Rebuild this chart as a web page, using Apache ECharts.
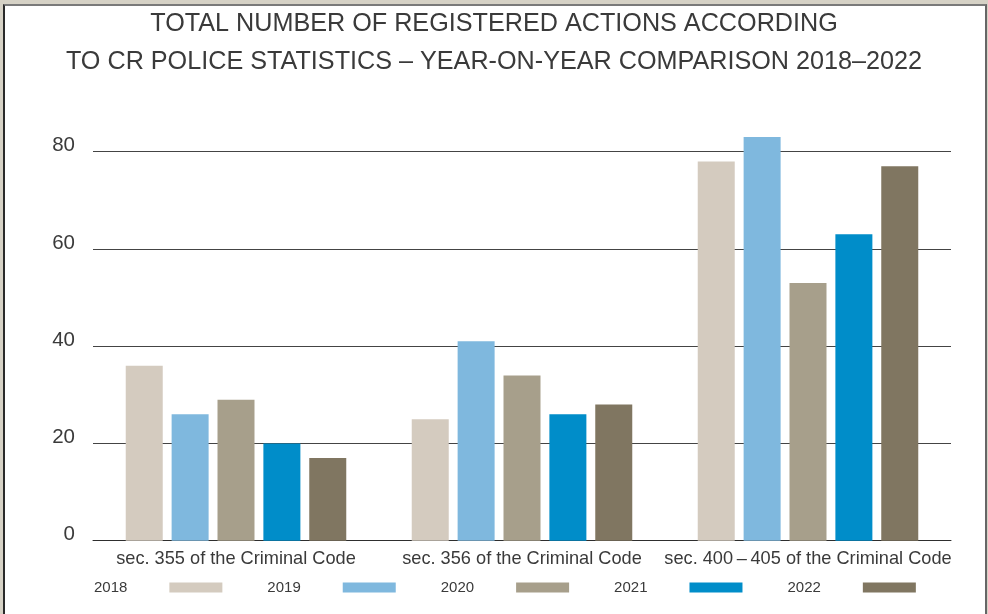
<!DOCTYPE html>
<html>
<head>
<meta charset="utf-8">
<script src="https://cdn.jsdelivr.net/npm/echarts@6/dist/echarts.min.js"></script>
<style>
  html, body { margin: 0; padding: 0; background: #d6d2c6; overflow: hidden; }
  .frame {
    position: absolute; left: 3px; top: 4px; width: 980px; height: 620px;
    background: #fff;
    border-left: 2px solid #2a2a2a;
    border-top: 2px solid #7a7a7a;
    border-right: 2px solid #666;
  }
  #chart { position: absolute; left: 0; top: 0; width: 988px; height: 614px; }
</style>
</head>
<body>
<div class="frame"></div>
<div id="chart"></div>
<script>
  // chart data
  const categories = [
    'sec. 355 of the Criminal Code',
    'sec. 356 of the Criminal Code',
    'sec. 400\u2009\u2013\u2009405 of the Criminal Code'
  ];
  const years = ['2018', '2019', '2020', '2021', '2022'];
  const values2018 = [36, 25, 78];
  const values2019 = [26, 41, 83];
  const values2020 = [29, 34, 53];
  const values2021 = [20, 26, 63];
  const values2022 = [17, 28, 77];
  const yTicks = [0, 20, 40, 60, 80];

  const seriesData = [values2018, values2019, values2020, values2021, values2022];
  const colors = ['#d4cbbf', '#7fb8de', '#a79f8b', '#008dc9', '#807661'];
  const FONT = 'Liberation Sans';

  let myChart = echarts.init(document.getElementById('chart'));
  let option = {
    animation: false,
    textStyle: { fontFamily: FONT },
    title: {
      text: 'TOTAL NUMBER OF REGISTERED ACTIONS ACCORDING\nTO CR POLICE STATISTICS \u2013 YEAR-ON-YEAR COMPARISON 2018\u20132022',
      left: 'center',
      top: 0,
      textStyle: {
        fontFamily: FONT,
        fontWeight: 'normal',
        fontSize: 25.2,
        lineHeight: 38,
        color: '#3a3a3a'
      }
    },
    legend: {
      left: 89,
      top: 575,
      itemWidth: 53,
      itemHeight: 10,
      itemGap: 45,
      align: 'right',
      icon: 'rect',
      textStyle: {
        fontFamily: FONT,
        fontSize: 15,
        color: '#3a3a3a',
        padding: [0, 37, 0, 0]
      },
      data: years
    },
    grid: {
      left: 93,
      right: 37,
      top: 151.7,
      bottom: 73.3
    },
    xAxis: {
      type: 'category',
      data: categories,
      axisTick: { show: false },
      axisLine: { show: true, lineStyle: { color: '#2e2e2e', width: 1 } },
      axisLabel: {
        fontFamily: FONT,
        fontSize: 18.2,
        color: '#3a3a3a',
        margin: 9,
        interval: 0,
        hideOverlap: false
      }
    },
    yAxis: {
      type: 'value',
      min: yTicks[0],
      max: yTicks[yTicks.length - 1],
      interval: 20,
      axisLine: { show: false },
      axisTick: { show: false },
      splitLine: { lineStyle: { color: '#444', width: 1 } },
      axisLabel: {
        fontFamily: FONT,
        fontSize: 20.5,
        color: '#3a3a3a',
        margin: 18,
        verticalAlign: 'bottom',
        lineHeight: 12
      }
    },
    series: years.map(function (year, i) {
      return {
        name: year,
        type: 'bar',
        barWidth: 37,
        barGap: '24%',
        clip: false,
        itemStyle: { color: colors[i] },
        data: seriesData[i]
      };
    })
  };
  myChart.setOption(option);
</script>
</body>
</html>
